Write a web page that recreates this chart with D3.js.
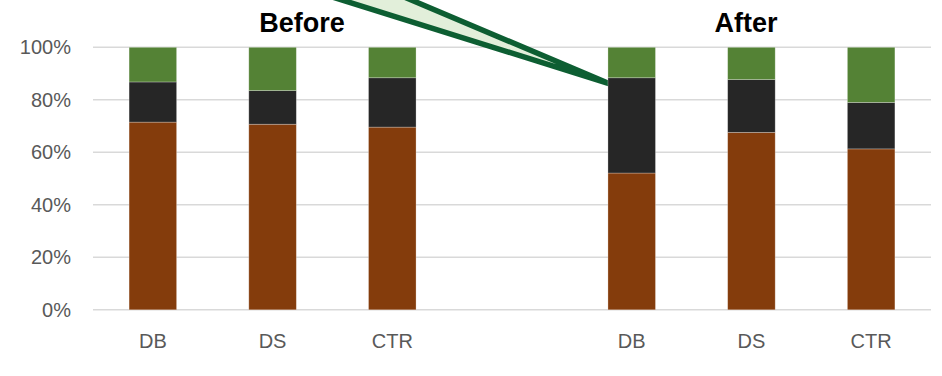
<!DOCTYPE html>
<html>
<head>
<meta charset="utf-8">
<script src="https://cdn.jsdelivr.net/npm/d3@7"></script>
<style>
  html, body { margin: 0; padding: 0; background: #fff; }
  svg { display: block; }
</style>
</head>
<body>
<svg id="chart" width="942" height="376"></svg>
<script>
// ---- data ----
const categories = ["DB", "DS", "CTR", "", "DB", "DS", "CTR"];
const seriesNames = ["Brown", "Black", "Green"];
const brownValues = [71.5, 70.7, 69.6, 0, 52.1, 67.6, 61.3];
const blackValues = [15.3, 12.8, 18.8, 0, 36.3, 20.1, 17.7];
const greenValues = [13.2, 16.5, 11.6, 0, 11.6, 12.3, 21.0];
const yTicks = [0, 20, 40, 60, 80, 100];
const groupTitles = ["Before", "After"];

// ---- layout ----
const W = 942, H = 376;
const plot = { left: 93, right: 931, top: 47.3, bottom: 309.8 };
const colors = { Brown: "#843c0c", Black: "#262626", Green: "#548235" };

const svg = d3.select("#chart");

const x = d3.scaleBand()
  .domain(d3.range(categories.length))
  .range([plot.left, plot.right])
  .paddingInner(0.603)
  .paddingOuter(0.3015);

const y = d3.scaleLinear().domain([0, 100]).range([plot.bottom, plot.top]);

// gridlines
svg.append("g").selectAll("line").data(yTicks).join("line")
  .attr("x1", plot.left).attr("x2", plot.right)
  .attr("y1", d => y(d)).attr("y2", d => y(d))
  .attr("stroke", "#d9d9d9").attr("stroke-width", 1.5);

// y-axis labels
const yAxis = d3.axisLeft(y).tickValues(yTicks).tickFormat(d => d + "%").tickSize(0).tickPadding(0);
const yg = svg.append("g").attr("transform", `translate(71,0)`).call(yAxis);
yg.select(".domain").remove();
yg.selectAll("text")
  .attr("fill", "#595959")
  .attr("font-family", "'Liberation Sans', Arial, sans-serif")
  .attr("font-size", 20);

// x-axis labels
const xAxis = d3.axisBottom(x).tickFormat(i => categories[i]).tickSize(0).tickPadding(0);
const xg = svg.append("g").attr("transform", `translate(0,${plot.bottom})`).call(xAxis);
xg.select(".domain").remove();
xg.selectAll("text")
  .attr("fill", "#595959")
  .attr("font-family", "'Liberation Sans', Arial, sans-serif")
  .attr("font-size", 20)
  .attr("dy", null)
  .attr("y", 38);

// callout wedge (annotation), tip anchored at After-DB bar
const tipX = x(4) + 1, tipY = y(86.2);
svg.append("polygon")
  .attr("points", [[278, -20], [364, -20], [tipX, tipY]].map(p => p.join(",")).join(" "))
  .attr("fill", "#e2efda")
  .attr("stroke", "#0d5e32")
  .attr("stroke-width", 5.5)
  .attr("stroke-linejoin", "bevel");

// stacked bars
const table = categories.map((c, i) => ({
  idx: i, Brown: brownValues[i], Black: blackValues[i], Green: greenValues[i]
}));
const stack = d3.stack().keys(seriesNames)(table);

svg.append("g").selectAll("g").data(stack).join("g")
  .attr("fill", d => colors[d.key])
  .selectAll("rect").data(d => d.filter(s => s[1] - s[0] > 0)).join("rect")
  .attr("x", d => x(d.data.idx))
  .attr("width", x.bandwidth())
  .attr("y", d => y(d[1]))
  .attr("height", d => y(d[0]) - y(d[1]))
  .attr("stroke", "#ffffff")
  .attr("stroke-opacity", 0.35)
  .attr("stroke-width", 0.75);

// group titles
svg.append("g").selectAll("text").data(groupTitles).join("text")
  .attr("x", (d, i) => i === 0 ? 302 : 746)
  .attr("y", 31.7)
  .attr("text-anchor", "middle")
  .attr("font-family", "'Liberation Sans', Arial, sans-serif")
  .attr("font-weight", "bold")
  .attr("font-size", 27)
  .attr("fill", "#000")
  .text(d => d);
</script>
</body>
</html>
